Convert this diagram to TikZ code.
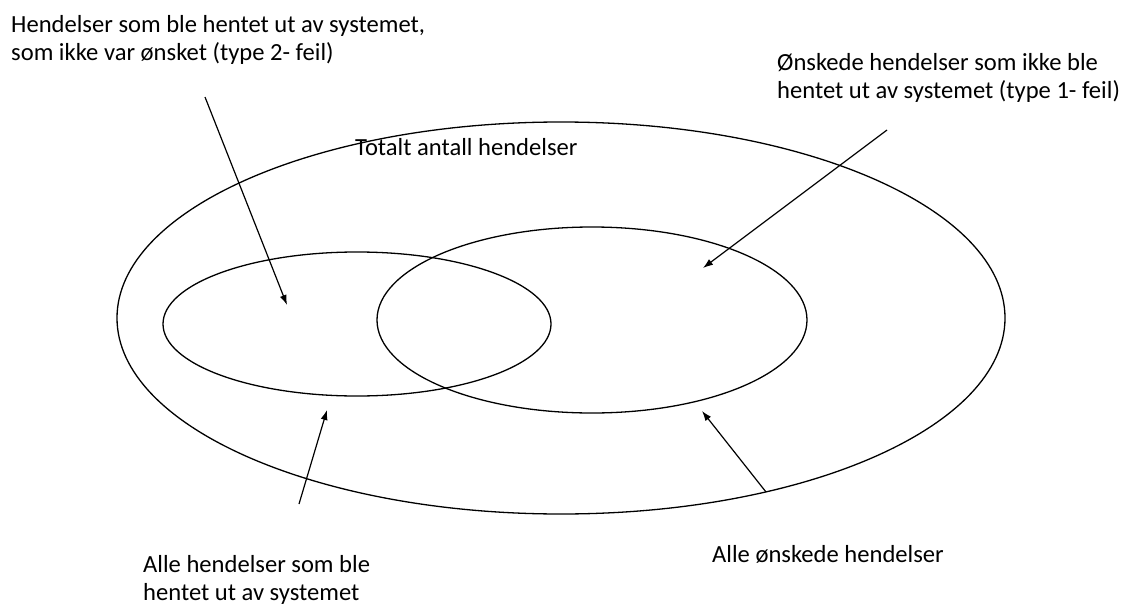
\documentclass[tikz,border=0pt]{standalone}
\usepackage{fontspec}
\setmainfont{Carlito}
\usetikzlibrary{arrows.meta}
\begin{document}
\begin{tikzpicture}[x=1pt,y=-1pt,
  set/.style={draw=black,line width=1.3pt},
  lbl/.style={anchor=base west,inner sep=0pt,align=left,
    font=\fontsize{24.6}{27.5}\selectfont},
  pointer/.style={draw=black,line width=1.2pt,-{Latex[length=10pt,width=7pt]}}]
\useasboundingbox (0,0) rectangle (1128,605);
% the three sets
\draw[set] (561,318) ellipse [x radius=444,y radius=196];
\draw[set] (357,324) ellipse [x radius=194,y radius=72];
\draw[set] (592,320) ellipse [x radius=215,y radius=93];
% labels (multi-line nodes sit on the baseline of their last line)
\node[lbl] (t2) at (11,60) {Hendelser som ble hentet ut av systemet,\\som ikke var ønsket (type 2- feil)};
\node[lbl] (t1) at (777,98) {Ønskede hendelser som ikke ble\\hentet ut av systemet (type 1- feil)};
\node[lbl] (tot) at (355,155) {Totalt antall hendelser};
\node[lbl] (ret) at (143,600) {Alle hendelser som ble\\hentet ut av systemet};
\node[lbl] (want) at (712,562) {Alle ønskede hendelser};
% pointer lines
\coordinate (a1s) at (205,97);  \coordinate (a1e) at (287,305);
\coordinate (a2s) at (887,130); \coordinate (a2e) at (703,268);
\coordinate (a3s) at (299,504); \coordinate (a3e) at (327,410);
\coordinate (a4s) at (766,492); \coordinate (a4e) at (702,411);
\draw[pointer] (a1s) -- (a1e);
\draw[pointer] (a2s) -- (a2e);
\draw[pointer] (a3s) -- (a3e);
\draw[pointer] (a4s) -- (a4e);
\end{tikzpicture}
\end{document}
